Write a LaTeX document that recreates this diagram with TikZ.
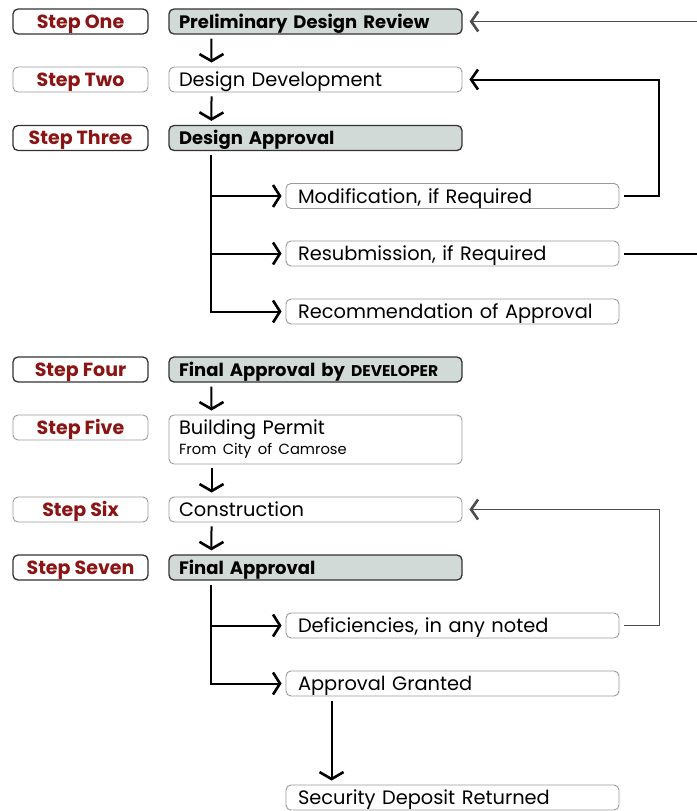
\documentclass[tikz,border=0pt]{standalone}
\usepackage{fontspec}
\setmainfont{Poppins}
\usetikzlibrary{arrows.meta}

\definecolor{stepred}{HTML}{8B1414}
\definecolor{boxfill}{HTML}{D2DAD8}
\definecolor{lightedge}{HTML}{9A9A9A}

\tikzset{
  stepbox/.style={draw=black!80, line width=1.3pt, rounded corners=5pt, minimum width=135pt, minimum height=25pt, inner sep=0pt, text height=15pt, text depth=2pt, text=stepred, font=\fontsize{19}{22}\selectfont\bfseries},
  steplight/.style={stepbox, draw=lightedge, line width=0.9pt},
  mainbox/.style={draw=black!80, fill=boxfill, line width=1.3pt, rounded corners=5pt, minimum height=25pt, inner xsep=10pt, inner ysep=0pt, text height=15pt, text depth=2pt, text width=273pt, align=left, font=\fontsize{18}{21}\selectfont\bfseries},
  mainlight/.style={mainbox, draw=lightedge, fill=white, line width=0.9pt, font=\fontsize{19.4}{22}\selectfont},
  subbox/.style={draw=lightedge, line width=0.9pt, rounded corners=5pt, minimum height=25pt, inner xsep=12pt, inner ysep=0pt, text height=15pt, text depth=1pt, text width=309pt, align=left, font=\fontsize{19.4}{22}\selectfont},
  flow/.style={line width=2pt, -{Straight Barb[length=7pt,width=24pt,line width=2.6pt]}, shorten <=4pt, shorten >=4pt},
  branch/.style={line width=2pt, -{Straight Barb[length=7pt,width=22pt,line width=2.6pt]}, shorten >=4pt},
  back/.style={line width=2pt, -{Straight Barb[length=7pt,width=20pt,line width=2.6pt]}, shorten >=7pt},
  thinback/.style={line width=1pt, draw=black!70, -{Straight Barb[length=7pt,width=20pt,line width=2.6pt]}, shorten >=7pt}
}

\begin{document}
\begin{tikzpicture}[x=1pt,y=-1pt]

\useasboundingbox[fill=white] (0,0) rectangle (696,811);

% step labels
\node[stepbox]   (l1) at (80.5,21.5)  {Step One};
\node[steplight] (l2) at (80.5,79.5)  {Step Two};
\node[stepbox]   (l3) at (80.5,138)   {Step Three};
\node[stepbox]   (l4) at (80.5,369.5) {Step Four};
\node[steplight] (l5) at (80.5,427.5) {Step Five};
\node[steplight] (l6) at (80.5,509.5) {Step Six};
\node[stepbox]   (l7) at (80.5,567.5) {Step Seven};

% main column
\node[mainbox]   (s1) at (315.5,21.5)  {Preliminary Design Review};
\node[mainlight] (s2) at (315.5,79.5)  {Design Development};
\node[mainbox]   (s3) at (315.5,138)   {Design Approval};
\node[mainbox]   (s4) at (315.5,369.5) {Final Approval by {\fontsize{15.5}{18}\selectfont DEVELOPER}};
\node[mainlight, minimum height=49pt, text height={}, text depth={}] (s5) at (315.5,439.5) {Building Permit\\[-2pt]{\fontsize{14.7}{17}\selectfont From City of Camrose}};
\node[mainlight] (s6) at (315.5,509.5) {Construction};
\node[mainbox]   (s7) at (315.5,567.5) {Final Approval};

% side boxes
\node[subbox] (modif) at (452.5,196) {Modification, if Required};
\node[subbox] (resub) at (452.5,253.5) {Resubmission, if Required};
\node[subbox] (recom) at (452.5,311.5) {Recommendation of Approval};
\node[subbox] (defic) at (452.5,625.5) {Deficiencies, in any noted};
\node[subbox] (grant) at (452.5,683.5) {Approval Granted};
\node[subbox] (depos) at (452.5,797.5) {Security Deposit Returned};

% down the column
\draw[flow] ([xshift=43pt]s1.south west) -- ([xshift=43pt]s2.north west);
\draw[flow] ([xshift=43pt]s2.south west) -- ([xshift=43pt]s3.north west);
\draw[flow] ([xshift=43pt]s4.south west) -- ([xshift=43pt]s5.north west);
\draw[flow] ([xshift=43pt]s5.south west) -- ([xshift=43pt]s6.north west);
\draw[flow] ([xshift=43pt]s6.south west) -- ([xshift=43pt]s7.north west);

% branches
\coordinate (t3) at ([xshift=43pt,yshift=-4pt]s3.south west);
\draw[branch] (t3) |- (recom.west);
\draw[branch] (t3 |- modif.west) -- (modif.west);
\draw[branch] (t3 |- resub.west) -- (resub.west);

\coordinate (t7) at ([xshift=43pt,yshift=-4pt]s7.south west);
\draw[branch] (t7) |- (grant.west);
\draw[branch] (t7 |- defic.west) -- (defic.west);

\draw[flow, shorten <=5pt] ([xshift=46pt]grant.south west) -- ([xshift=46pt]depos.north west);

% loops back
\draw[back, shorten <=5pt] (modif.east) -- ++(40,0) |- (s2.east);
\coordinate (edge) at (702,21.5);
\draw[line width=2pt, shorten <=5pt] (resub.east) -| (edge);
\draw[thinback] (edge) -- (s1.east);
\draw[thinback, shorten <=5pt] (defic.east) -- ++(40,0) |- (s6.east);

\end{tikzpicture}
\end{document}
